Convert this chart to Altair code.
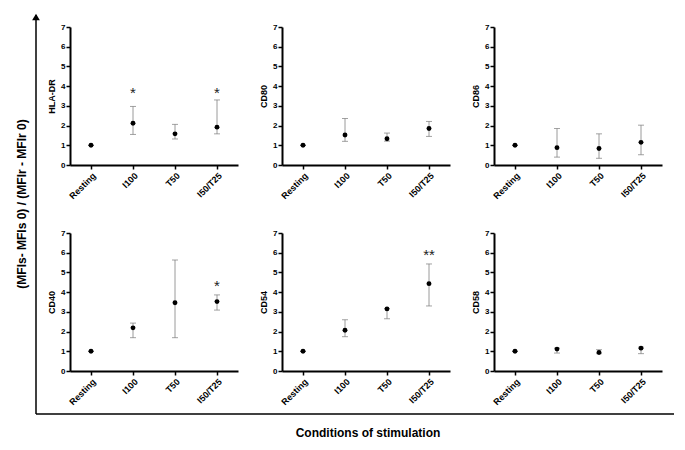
import altair as alt
import pandas as pd

categories = ["Resting", "I100", "T50", "I50/T25"]
markers = ["HLA-DR", "CD80", "CD86", "CD40", "CD54", "CD58"]

means = {
    "HLA-DR": [1.0, 2.12, 1.58, 1.92],
    "CD80":   [1.0, 1.52, 1.33, 1.85],
    "CD86":   [1.0, 0.88, 0.84, 1.15],
    "CD40":   [1.0, 2.19, 3.46, 3.52],
    "CD54":   [1.0, 2.07, 3.15, 4.43],
    "CD58":   [1.0, 1.11, 0.94, 1.16],
}
lowers = {
    "HLA-DR": [1.0, 1.55, 1.32, 1.58],
    "CD80":   [1.0, 1.20, 1.21, 1.45],
    "CD86":   [1.0, 0.40, 0.34, 0.52],
    "CD40":   [1.0, 1.69, 1.69, 3.09],
    "CD54":   [1.0, 1.74, 2.65, 3.30],
    "CD58":   [1.0, 0.91, 0.88, 0.88],
}
uppers = {
    "HLA-DR": [1.0, 2.97, 2.06, 3.30],
    "CD80":   [1.0, 2.36, 1.62, 2.21],
    "CD86":   [1.0, 1.85, 1.58, 2.02],
    "CD40":   [1.0, 2.43, 5.63, 3.86],
    "CD54":   [1.0, 2.60, 3.17, 5.43],
    "CD58":   [1.0, 1.16, 1.08, 1.21],
}
star_marker = ["HLA-DR", "HLA-DR", "CD40", "CD54"]
star_cond = ["I100", "I50/T25", "I50/T25", "I50/T25"]
star_y = [3.83, 3.83, 4.50, 6.10]
star_text = ["*", "*", "*", "**"]

y_title = "(MFIs- MFIs 0) / (MFIr - MFIr 0)"
x_title = "Conditions of stimulation"

W, H = 168, 138
FONT = "Liberation Sans"

xscale = alt.Scale(domain=categories, type="point", padding=0.5)
yscale = alt.Scale(domain=[0, 7], nice=False)
xaxis = alt.Axis(title=None, labelAngle=-45, labelPadding=2, labelFontSize=9)


def panel(m, first=False):
    df = pd.DataFrame({
        "cond": categories,
        "mean": means[m],
        "lo": lowers[m],
        "hi": uppers[m],
    })
    yaxis = alt.Axis(title=m, values=list(range(8)), tickCount=8)
    x = alt.X("cond:N", scale=xscale, sort=categories, axis=xaxis)

    def Y(f):
        return alt.Y(f, scale=yscale, axis=yaxis)

    base = alt.Chart(df)
    bars = base.mark_rule(color="#9a9a9a", strokeWidth=1).encode(
        x=x, y=Y("lo:Q"), y2="hi:Q")
    caplo = base.mark_tick(color="#7a7a7a", size=6, thickness=1,
                           orient="horizontal").encode(x=x, y=Y("lo:Q"))
    caphi = base.mark_tick(color="#7a7a7a", size=6, thickness=1,
                           orient="horizontal").encode(x=x, y=Y("hi:Q"))
    pts = base.mark_circle(color="black", size=24, opacity=1).encode(
        x=x, y=Y("mean:Q"))
    layers = [bars, caplo, caphi, pts]

    sdf = pd.DataFrame({"marker": star_marker, "cond": star_cond,
                        "y": star_y, "t": star_text})
    sdf = sdf[sdf["marker"] == m]
    if len(sdf):
        stars = alt.Chart(sdf).mark_text(fontSize=15, font=FONT, color="#222",
                                         baseline="middle", dy=4).encode(
            x=x, y=Y("y:Q"), text="t:N")
        layers.append(stars)

    if first:
        one = pd.DataFrame({"a": [0]})
        d = alt.Chart(one)
        vline = d.mark_rule(color="black", strokeWidth=1.5).encode(
            x=alt.value(-34), y=alt.value(-12), y2=alt.value(387))
        hline = d.mark_rule(color="black", strokeWidth=1.5).encode(
            x=alt.value(-34), x2=alt.value(604), y=alt.value(387))
        arrow = d.mark_point(shape="triangle-up", filled=True, size=60,
                             color="black", opacity=1).encode(
            x=alt.value(-34), y=alt.value(-10))
        ghost = d.mark_point(size=1, opacity=0).encode(
            x=alt.value(-61), y=alt.value(-18))
        ytxt = d.mark_text(angle=270, fontSize=12, fontWeight="bold",
                           font=FONT, color="black", baseline="middle").encode(
            x=alt.value(-48), y=alt.value(177), text=alt.value(y_title))
        xtxt = d.mark_text(fontSize=12, fontWeight="bold", font=FONT,
                           color="black", baseline="middle").encode(
            x=alt.value(298), y=alt.value(406), text=alt.value(x_title))
        layers += [vline, hline, arrow, ghost, ytxt, xtxt]

    return alt.layer(*layers).properties(width=W, height=H)


panels = [panel(m, first=(i == 0)) for i, m in enumerate(markers)]

chart = (
    alt.concat(*panels, columns=3, spacing={"row": 68, "column": 44},
               bounds="flush")
    .properties(padding=0)
    .configure(font=FONT)
    .configure_view(strokeWidth=0, stroke="transparent")
    .configure_axis(
        grid=False,
        labelFontSize=8, labelFontWeight="bold", labelColor="black",
        labelFont=FONT,
        tickSize=4, tickColor="black", tickWidth=1.5,
        domainColor="black", domainWidth=2,
        titleFontSize=9, titleFontWeight="bold", titleColor="black",
        titleFont=FONT,
    )
    .configure_axisY(labelPadding=1, titlePadding=4)
)

chart.save("out.html", embed_options={"renderer": "svg", "actions": False})
